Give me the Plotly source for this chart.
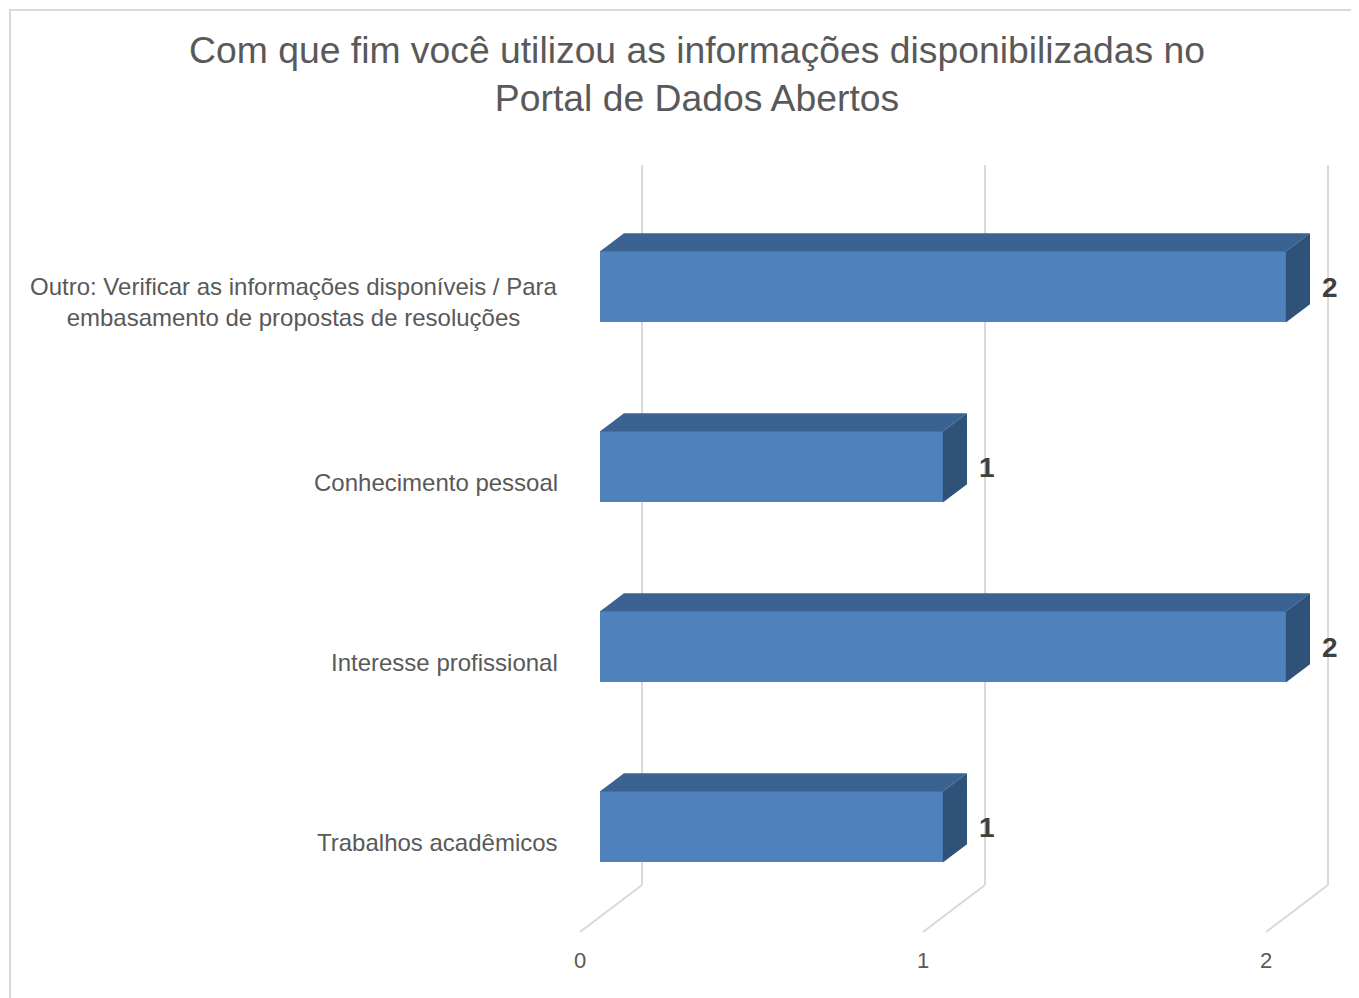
import plotly.graph_objects as go

# ---- data ----
categories = [
    "Trabalhos acadêmicos",
    "Interesse profissional",
    "Conhecimento pessoal",
    "Outro: Verificar as informações disponíveis / Para<br>embasamento de propostas de resoluções",
]
values = [1, 2, 1, 2]
tick_values = [0, 1, 2]
tick_labels = ["0", "1", "2"]
title_text = "Com que fim você utilizou as informações disponibilizadas no<br>Portal de Dados Abertos"

# ---- 3D projection parameters (in axis units) ----
OFF = 8                        # page body margin
PX_PER_VAL = 343.0
PX_PER_CAT = 180.0
X0 = 580 - OFF                 # figure pixel of value 0 (front plane)
Y0 = 842 - OFF                 # figure pixel of first category (front plane)
DX = 62 / PX_PER_VAL           # full depth offset along value axis
DY = 47 / PX_PER_CAT           # full depth offset along category axis
D1, D2 = 0.32, 0.71            # front / back depth of bars
H = 35.5 / PX_PER_CAT          # half bar thickness

FRONT = "#4F81BD"
TOP = "#3B6392"
SIDE = "#2F5279"
GRID = "#D9D9D9"

W, HGT = 1359, 998
ML, MR, MT, MB = 12, 17, 120, 10
x_range = [(ML - X0) / PX_PER_VAL, (W - MR - X0) / PX_PER_VAL]
y_range = [(Y0 - (HGT - MB)) / PX_PER_CAT, (Y0 - MT) / PX_PER_CAT]

fig = go.Figure()

ypos = list(range(len(categories)))

# front faces
fig.add_trace(go.Bar(
    orientation="h",
    x=values,
    y=[i + D1 * DY for i in ypos],
    base=D1 * DX,
    width=2 * H,
    marker=dict(color=FRONT, line=dict(width=0)),
    hoverinfo="skip",
))

# top and side faces
for i, v in zip(ypos, values):
    yt = i + H
    yb = i - H
    fig.add_trace(go.Scatter(
        x=[D1 * DX, v + D1 * DX, v + D2 * DX, D2 * DX, D1 * DX],
        y=[yt + D1 * DY, yt + D1 * DY, yt + D2 * DY, yt + D2 * DY, yt + D1 * DY],
        fill="toself", fillcolor=TOP, mode="lines", line=dict(width=0, color=TOP),
        hoverinfo="skip",
    ))
    fig.add_trace(go.Scatter(
        x=[v + D1 * DX, v + D2 * DX, v + D2 * DX, v + D1 * DX, v + D1 * DX],
        y=[yb + D1 * DY, yb + D2 * DY, yt + D2 * DY, yt + D1 * DY, yb + D1 * DY],
        fill="toself", fillcolor=SIDE, mode="lines", line=dict(width=0, color=SIDE),
        hoverinfo="skip",
    ))

# gridlines (back wall) and floor lines
shapes = []
y_lo, y_hi = -0.5, len(categories) - 0.5
for t in tick_values:
    shapes.append(dict(type="line", xref="x", yref="y", layer="below",
                       x0=t + DX, x1=t + DX, y0=y_lo + DY, y1=y_hi + DY,
                       line=dict(color=GRID, width=2)))
    shapes.append(dict(type="line", xref="x", yref="y", layer="below",
                       x0=t, x1=t + DX, y0=y_lo, y1=y_lo + DY,
                       line=dict(color=GRID, width=2)))

# chart border (page pixels 10,10 -> beyond right/bottom edge)
pw = W - ML - MR
ph = HGT - MT - MB
shapes.append(dict(type="rect", xref="paper", yref="paper",
                   x0=(10 - OFF - ML) / pw, x1=(W + 40 - ML) / pw,
                   y0=-40 / ph, y1=((HGT - MB) - (10 - OFF)) / ph,
                   line=dict(color=GRID, width=2), fillcolor="rgba(0,0,0,0)", layer="below"))

annotations = []
# category labels
for i, c in zip(ypos, categories):
    annotations.append(dict(x=-20 / PX_PER_VAL, y=i, xref="x", yref="y", text=c,
                            showarrow=False, xanchor="right", yanchor="middle", align="center",
                            font=dict(family="Liberation Sans, Arial", size=24, color="#595959")))
# value tick labels
for t, lab in zip(tick_values, tick_labels):
    annotations.append(dict(x=t, y=(842 - 960) / PX_PER_CAT, xref="x", yref="y", text=lab,
                            showarrow=False, xanchor="center", yanchor="middle",
                            font=dict(family="Liberation Sans, Arial", size=22, color="#595959")))
# data labels
for i, v in zip(ypos, values):
    annotations.append(dict(x=v + DX, y=i + D1 * DY, xref="x", yref="y", text=f"<b>{v}</b>",
                            showarrow=False, xanchor="center", yanchor="middle", xshift=2, yshift=-1,
                            font=dict(family="Liberation Sans, Arial", size=28, color="#404040")))

fig.update_layout(
    width=W, height=HGT, autosize=False,
    margin=dict(l=ML, r=MR, t=MT, b=MB),
    paper_bgcolor="white", plot_bgcolor="white",
    showlegend=False,
    bargap=0,
    title=dict(text=title_text, x=(697 - OFF) / W, xanchor="center", xref="container",
               y=1 - (63 - OFF) / HGT, yanchor="middle", yref="container",
               font=dict(family="Liberation Sans, Arial", size=37.3, color="#595959")),
    xaxis=dict(range=x_range, visible=False, fixedrange=True),
    yaxis=dict(range=y_range, visible=False, fixedrange=True),
    shapes=shapes,
    annotations=annotations,
)

fig.write_html("out.html")
